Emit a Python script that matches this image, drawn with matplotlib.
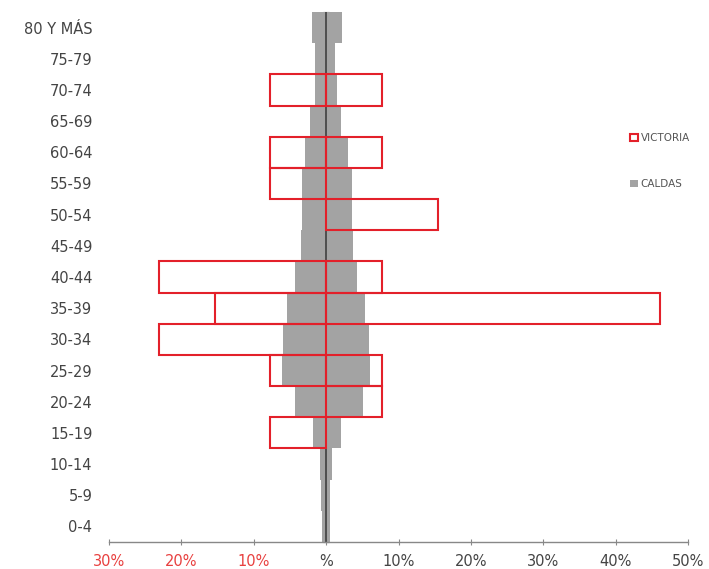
import matplotlib
matplotlib.use("Agg")
import matplotlib.pyplot as plt
import numpy as np

plt.rcParams['font.family'] = ['DejaVu Sans']

ages = ['0-4', '5-9', '10-14', '15-19', '20-24', '25-29', '30-34', '35-39',
        '40-44', '45-49', '50-54', '55-59', '60-64', '65-69', '70-74',
        '75-79', '80 Y MÁS']

# VICTORIA (% of each sex)
victoria_left = [0, 0, 0, 7.7, 0, 7.7, 23.1, 15.4, 23.1, 0, 0, 7.7, 7.7, 0, 7.7, 0, 0]
victoria_right = [0, 0, 0, 0, 7.7, 7.7, 0, 46.2, 7.7, 0, 15.4, 0, 7.7, 0, 7.7, 0, 0]

# CALDAS (% of each sex)
caldas_left = [0.6, 0.7, 0.8, 1.8, 4.3, 6.1, 5.9, 5.4, 4.3, 3.5, 3.4, 3.3, 2.9, 2.2, 1.5, 1.5, 1.9]
caldas_right = [0.6, 0.6, 0.8, 2.0, 5.1, 6.1, 5.9, 5.4, 4.3, 3.7, 3.6, 3.6, 3.0, 2.0, 1.5, 1.2, 2.2]

xticks = [-30, -20, -10, 0, 10, 20, 30, 40, 50]
xticklabels = ['30%', '20%', '10%', '%', '10%', '20%', '30%', '40%', '50%']

fig = plt.figure(figsize=(7.09, 5.69), dpi=100)
ax = fig.add_axes([109/709, 1 - 542/569, (688 - 109)/709, (542 - 12)/569])

y = np.arange(len(ages))
gray = '#a3a3a3'
red = '#e3202a'

ax.barh(y, -np.array(caldas_left), height=1.0, color=gray, edgecolor='none',
        zorder=1, label='CALDAS')
ax.barh(y, caldas_right, height=1.0, color=gray, edgecolor='none', zorder=1)

ax.axvline(0, color='#404040', lw=1.2, zorder=2)

vl = np.array(victoria_left)
vr = np.array(victoria_right)
ml = vl > 0
mr = vr > 0
ax.barh(y[ml], -vl[ml], height=1.0, facecolor='none', edgecolor=red, lw=1.5,
        zorder=3, label='VICTORIA')
ax.barh(y[mr], vr[mr], height=1.0, facecolor='none', edgecolor=red, lw=1.5,
        zorder=3)

ax.set_xlim(-30, 50)
ax.set_ylim(-0.5, len(ages) - 0.5)

ax.set_yticks(y)
ax.set_yticklabels(ages, fontsize=10.5, color='#444444')
ax.tick_params(axis='y', length=0, pad=12)

ax.set_xticks(xticks)
ax.set_xticklabels(xticklabels, fontsize=10.5)
for lab, v in zip(ax.get_xticklabels(), xticks):
    lab.set_color('#e8403f' if v < 0 else '#444444')
ax.tick_params(axis='x', direction='inout', length=5, color='#888888', pad=6)

for s in ['top', 'right', 'left']:
    ax.spines[s].set_visible(False)
ax.spines['bottom'].set_color('#888888')
ax.spines['bottom'].set_linewidth(1.0)

# center axis ticks
sec = ax.secondary_yaxis(0.375)
sec.spines['left'].set_visible(False)
sec.set_yticks(np.arange(-0.5, len(ages), 0.5))
sec.set_yticklabels([])
sec.tick_params(axis='y', direction='inout', length=4, color='#404040', width=0.8)

h, l = ax.get_legend_handles_labels()
order = [l.index('VICTORIA'), l.index('CALDAS')]
leg = fig.legend([h[i] for i in order], [l[i] for i in order],
                 loc='upper left', bbox_to_anchor=(621/709, 1 - 124/569),
                 frameon=False, fontsize=7.5, labelspacing=3.4,
                 handlelength=0.7, handleheight=0.7, handletextpad=0.3)
for t in leg.get_texts():
    t.set_color('#555555')

fig.savefig('out.png', dpi=100, facecolor='white')
